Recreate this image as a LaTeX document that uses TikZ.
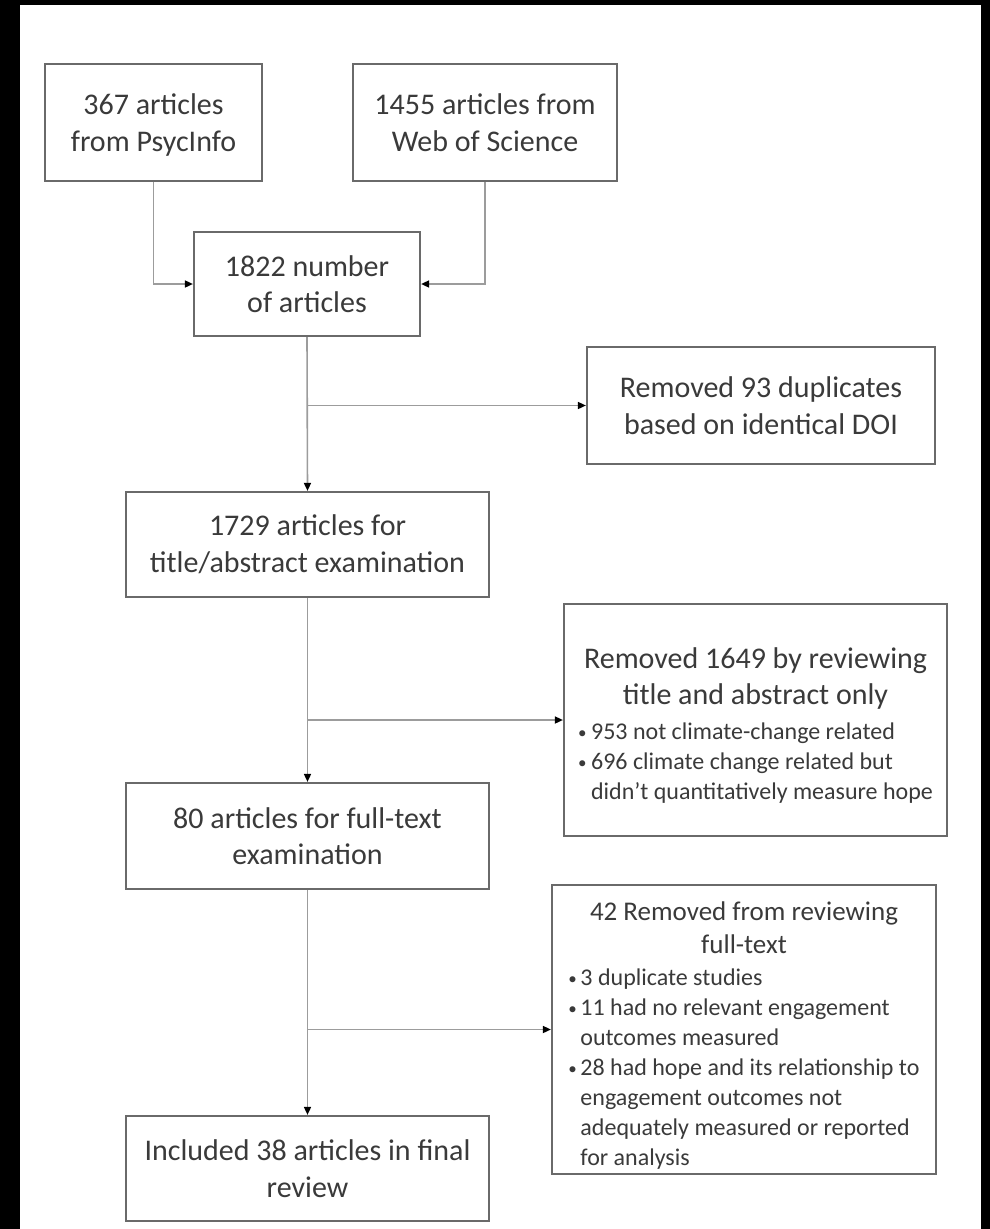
\documentclass[tikz,border=0pt]{standalone}
\usepackage{fontspec}
\setmainfont{Carlito}
\usetikzlibrary{arrows.meta}
\definecolor{boxline}{HTML}{6A6A6A}
\definecolor{connline}{HTML}{9C9C9C}
\definecolor{txtcol}{HTML}{3A3A3A}
\newcommand\mytitlefont{\fontsize{30}{36}\selectfont}
\newcommand\myhtitlefont{\fontsize{27}{33}\selectfont}
\newcommand\mybulletfont{\fontsize{24}{30}\selectfont}
\newcommand\mybul{{\fontsize{17}{17}\selectfont\raisebox{1pt}{•}}}
\begin{document}
\begin{tikzpicture}[x=1pt,y=-1pt,
  box/.style={draw=boxline, line width=2.2pt, fill=white, text=txtcol,
    font=\fontsize{30}{36.6}\selectfont, align=center, inner sep=0pt},
  conn/.style={draw=connline, line width=1.6pt,
    -{Triangle[length=8pt,width=7pt,black]}}]
\fill[black] (0,0) rectangle (990,1229);
\fill[white] (20,5) rectangle (981,1229);
\useasboundingbox (0,0) rectangle (990,1229);

\node[box, minimum width=217, minimum height=117] (A) at (153.5,122.5) {\rule{0pt}{26pt}367 articles\\from PsycInfo};
\node[box, minimum width=264, minimum height=117] (B) at (485,122.5) {1455 articles from\\Web of Science};
\node[box, minimum width=226, minimum height=104] (C) at (307,284) {1822 number\\of articles};
\node[box, minimum width=348, minimum height=117] (D) at (761,405.5) {Removed 93 duplicates\\based on identical DOI};
\node[box, minimum width=363, minimum height=105] (E) at (307.5,544.5) {1729 articles for\\title/abstract examination};
\node[box, minimum width=383, minimum height=232] (F) at (755.5,720) {{\mybulletfont\begin{tabular}{@{}p{13pt}@{}l@{}}
\noalign{\vskip 16pt}
\multicolumn{2}{@{}c@{}}{\mytitlefont Removed 1649 by reviewing}\\[6pt]
\multicolumn{2}{@{}c@{}}{\mytitlefont title and abstract only}\\[5pt]
\mybul&953 not climate-change related\\
\mybul&696 climate change related but\\
&didn’t quantitatively measure hope
\end{tabular}}};
\node[box, minimum width=363, minimum height=106] (G) at (307.5,836) {80 articles for full-text\\examination};
\node[box, minimum width=384, minimum height=285] (H) at (744,1029.5) {{\mybulletfont\begin{tabular}{@{}p{12pt}@{}l@{}}
\noalign{\vskip 14pt}
\multicolumn{2}{@{}c@{}}{\myhtitlefont 42 Removed from reviewing}\\[3pt]
\multicolumn{2}{@{}c@{}}{\myhtitlefont full-text}\\[2pt]
\mybul&3 duplicate studies\\
\mybul&11 had no relevant engagement\\
&outcomes measured\\
\mybul&28 had hope and its relationship to\\
&engagement outcomes not\\
&adequately measured or reported\\
&for analysis
\end{tabular}}};
\node[box, minimum width=363, minimum height=105] (I) at (307.5,1168.5) {Included 38 articles in final\\review};

\draw[conn] (A.south) |- (C.west);
\draw[conn] (B.south) |- (C.east);
\draw[conn] (C.south) -- (E.north);
\draw[conn] (C.south |- D.west) -- (D.west);
\draw[conn] (E.south) -- (G.north);
\draw[conn] (E.south |- F.west) -- (F.west);
\draw[conn] (G.south) -- (I.north);
\draw[conn] (G.south |- H.west) -- (H.west);
\end{tikzpicture}
\end{document}
